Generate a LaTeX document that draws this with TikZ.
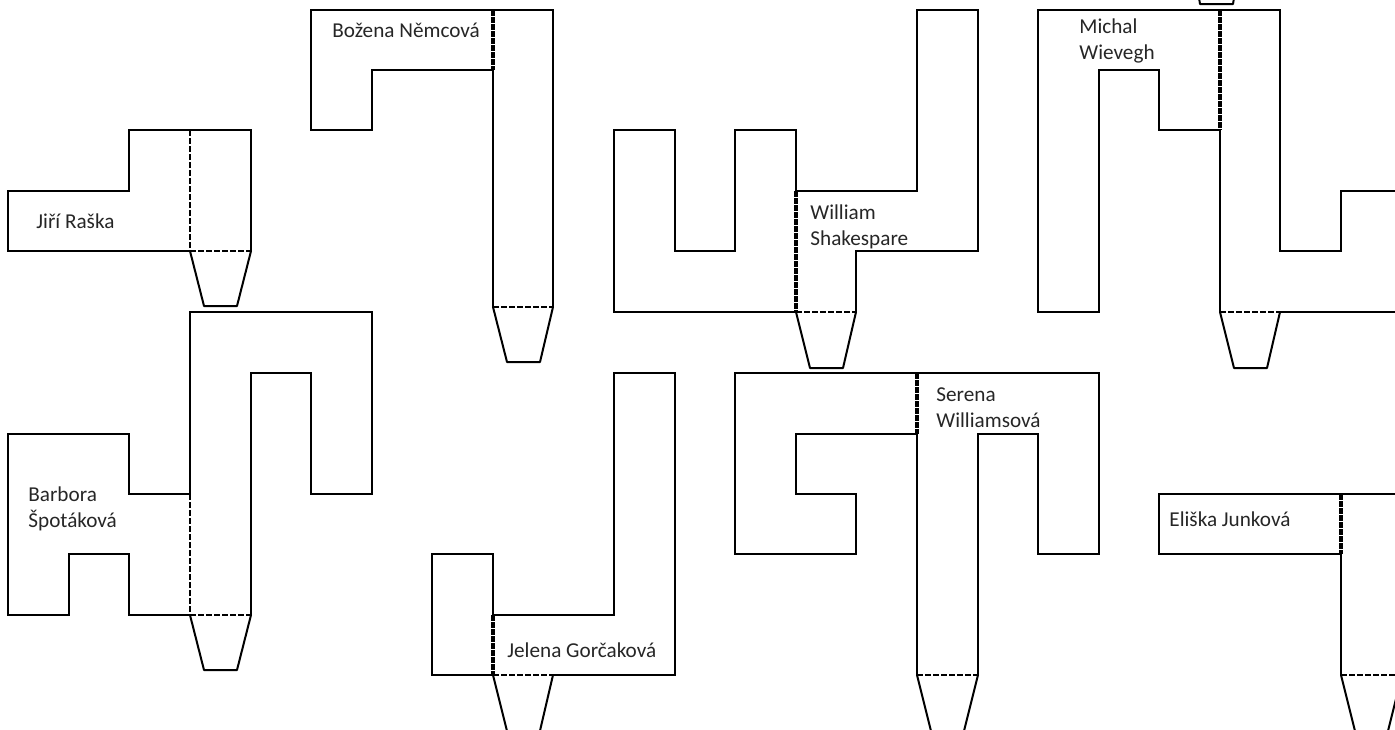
\documentclass[tikz,border=0pt]{standalone}
\usepackage{tikz}
\usepackage{fontspec}
\setmainfont{Carlito}
\tikzset{
    wall/.style={line width=1.25pt,line join=miter},
    fold/.style={line width=1.7pt,dash pattern=on 2.8pt off 0.7pt},
    rim/.style={line width=1pt,dash pattern=on 2.8pt off 1.2pt},
    flap/.style={line width=1pt,line join=round},
    person/.style={anchor=base west,inner sep=0pt,align=left,text=black!85,
	font=\fontsize{10.6}{13}\selectfont},
}

\begin{document}
\begin{tikzpicture}[x=0.5pt,y=-0.5pt]
    \useasboundingbox (0, 0) rectangle (1395, 729);
    \clip (0, 0) rectangle (1395, 729);

    \draw [wall] (190, 251) -- (8, 251) -- (8, 191) -- (129, 191) -- (129, 130)
	-- (251, 130) -- (251, 251);
    \draw [rim] (190, 130) -- (190, 251);
    \draw [rim] (190, 251) -- (251, 251);
    \draw [flap] (190, 251) -- (204, 306) -- (237, 306) -- (251, 251);
    \path (36, 228) node [person] (raska) {Jiří Raška};

    \draw [wall] (493, 70) -- (372, 70) -- (372, 130) -- (311, 130) -- (311, 10)
	-- (553, 10) -- (553, 307);
    \draw [wall] (493, 70) -- (493, 307);
    \draw [fold] (493, 10) -- (493, 70);
    \draw [rim] (493, 307) -- (553, 307);
    \draw [flap] (493, 307) -- (507, 362) -- (540, 362) -- (553, 307);
    \path (332, 37) node [person] (nemcova) {Božena Němcová};

    \draw [wall] (796, 312) -- (614, 312) -- (614, 130) -- (675, 130) -- (675, 251)
	-- (735, 251) -- (735, 130) -- (796, 130) -- (796, 191) -- (917, 191)
	-- (917, 10) -- (978, 10) -- (978, 251) -- (856, 251) -- (856, 312);
    \draw [fold] (796, 191) -- (796, 312);
    \draw [rim] (796, 312) -- (856, 312);
    \draw [flap] (796, 312) -- (810, 368) -- (843, 368) -- (856, 312);
    \path (810, 245) node [person] (shakespeare) {William\\Shakespare};

    \draw [wall] (1220, 130) -- (1159, 130) -- (1159, 70) -- (1099, 70) -- (1099, 312)
	-- (1038, 312) -- (1038, 10) -- (1280, 10) -- (1280, 251) -- (1341, 251)
	-- (1341, 191) -- (1400, 191);
    \draw [wall] (1220, 130) -- (1220, 312);
    \draw [wall] (1280, 312) -- (1400, 312);
    \draw [fold] (1220, 10) -- (1220, 130);
    \draw [rim] (1220, 312) -- (1280, 312);
    \draw [flap] (1220, 312) -- (1234, 368) -- (1267, 368) -- (1280, 312);
    \draw [flap] (1198, -8) -- (1200, 4) -- (1233, 4) -- (1235, -8);
    \path (1079, 59) node [person] (wievegh) {Michal\\Wievegh};

    \draw [wall] (190, 494) -- (129, 494) -- (129, 434) -- (8, 434) -- (8, 615)
	-- (69, 615) -- (69, 554) -- (129, 554) -- (129, 615) -- (190, 615);
    \draw [wall] (190, 494) -- (190, 312) -- (372, 312) -- (372, 494) -- (311, 494)
	-- (311, 373) -- (251, 373) -- (251, 615);
    \draw [rim] (190, 494) -- (190, 615);
    \draw [rim] (190, 615) -- (251, 615);
    \draw [flap] (190, 615) -- (204, 670) -- (237, 670) -- (251, 615);
    \path (28, 527) node [person] (spotakova) {Barbora\\Špotáková};

    \draw [wall] (493, 615) -- (493, 554) -- (432, 554) -- (432, 675) -- (493, 675);
    \draw [wall] (493, 615) -- (614, 615) -- (614, 373) -- (675, 373) -- (675, 675)
	-- (553, 675);
    \draw [fold] (493, 615) -- (493, 675);
    \draw [rim] (493, 675) -- (553, 675);
    \draw [flap] (493, 675) -- (508, 735);
    \draw [flap] (553, 675) -- (539, 735);
    \path (507, 657) node [person] (gorcakova) {Jelena Gorčaková};

    \draw [wall] (917, 434) -- (796, 434) -- (796, 494) -- (856, 494) -- (856, 554)
	-- (735, 554) -- (735, 373) -- (1099, 373) -- (1099, 554) -- (1038, 554)
	-- (1038, 434) -- (978, 434) -- (978, 675);
    \draw [wall] (917, 434) -- (917, 675);
    \draw [fold] (917, 373) -- (917, 434);
    \draw [rim] (917, 675) -- (978, 675);
    \draw [flap] (917, 675) -- (932, 735);
    \draw [flap] (978, 675) -- (963, 735);
    \path (936, 427) node [person] (williamsova) {Serena\\Williamsová};

    \draw [wall] (1400, 494) -- (1159, 494) -- (1159, 554) -- (1341, 554) -- (1341, 675);
    \draw [fold] (1341, 494) -- (1341, 554);
    \draw [rim] (1341, 675) -- (1400, 675);
    \draw [flap] (1341, 675) -- (1356, 735);
    \draw [flap] (1402, 675) -- (1387, 735);
    \path (1169, 526) node [person] (junkova) {Eliška Junková};
\end{tikzpicture}
\end{document}
